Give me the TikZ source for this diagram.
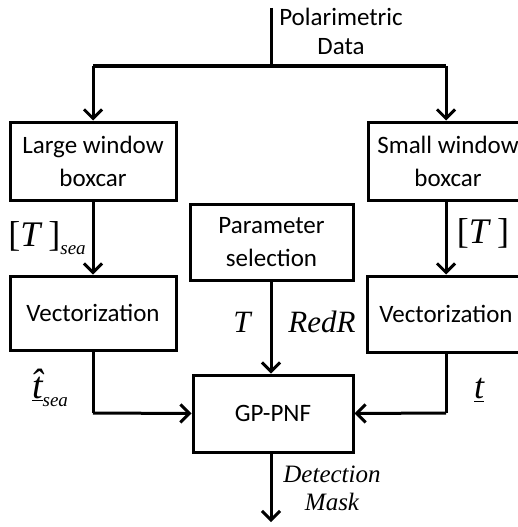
\documentclass[tikz,border=0pt]{standalone}
\usepackage{fontspec}
\setmainfont{Carlito}
\newfontfamily\mathserif{Liberation Serif}
\usetikzlibrary{arrows.meta}
\newcommand{\subsea}{\raisebox{-8pt}{\fontsize{19}{19}\selectfont\itshape sea}}
\tikzset{
  blk/.style={draw=black, line width=3pt, minimum width=166pt, minimum height=78pt,
    align=center, font=\fontsize{25}{33}\selectfont, inner sep=0pt},
  wire/.style={line width=3pt},
  flow/.style={line width=3pt, -{Straight Barb[length=9pt,width=18pt,line width=3pt]}},
  lbl/.style={font=\mathserif\itshape\fontsize{31}{31}\selectfont, inner sep=0pt},
}
\begin{document}
\begin{tikzpicture}[x=1pt,y=-1pt]
\useasboundingbox (0,0) rectangle (518,527);
\begin{scope}
\clip (0,0) rectangle (518,527);
% blocks
\node[blk, minimum width=166pt, minimum height=78pt] (large) at (93,161) {Large window\\boxcar};
\node[blk, minimum width=160pt, minimum height=78pt] (small) at (448,161) {Small window\\boxcar};
\node[blk, minimum width=163pt, minimum height=76pt] (param) at (271.5,242) {Parameter\\selection};
\node[blk, minimum width=166pt, minimum height=74pt] (vecL) at (93,313) {Vectorization};
\node[blk, minimum width=158pt, minimum height=76pt] (vecR) at (446,314) {Vectorization};
\node[blk, minimum width=160pt, minimum height=77pt] (gp) at (273,413.5) {GP-PNF};
% input
\coordinate (src) at (271,8);
\coordinate (split) at (271,66);
\coordinate (splitL) at (93,66);
\coordinate (splitR) at (446,66);
\node[font=\fontsize{25}{29}\selectfont, align=center, inner sep=0pt] (data) at (341,31) {Polarimetric\\Data};
\draw[wire] (src) -- (split);
\draw[wire] (splitL) -- (splitR);
\draw[flow] (splitL) -- (large.north -| splitL);
\draw[flow] (splitR) -- (small.north -| splitR);
% covariance to vectors
\node[lbl, font=\mathserif\fontsize{36}{36}\selectfont] (covL) at (47,238) {[\textit{T}\,]\subsea};
\node[lbl, font=\mathserif\fontsize{36}{36}\selectfont] (covR) at (483,233) {[\textit{T}\,]};
\draw[flow] (large.south -| splitL) -- (vecL.north -| splitL);
\draw[flow] (small.south -| splitR) -- (vecR.north -| splitR);
% parameters
\draw[flow] (param.south -| gp.north) ++(-2,0) coordinate (pm) -- (pm |- gp.north);
\node[lbl] (lT) at (242,322) {T};
\node[lbl] (lR) at (322,322) {RedR};
% vectors into detector
\coordinate (jL) at (93,413);
\coordinate (jR) at (446,413);
\draw[wire] (vecL.south -| jL) -- (jL);
\draw[flow] (jL) -- (gp.west);
\draw[wire] (vecR.south -| jR) -- (jR);
\draw[flow] (jR) -- (gp.east);
\node[lbl, font=\mathserif\itshape\fontsize{38}{38}\selectfont] (tsea) at (50,388) {\underline{\^{t}}\subsea};
\node[lbl, font=\mathserif\itshape\fontsize{36}{36}\selectfont] (tv) at (479,390) {\underline{t}};
% output
\coordinate (out) at (271,522);
\draw[flow] (gp.south -| pm) -- (out);
\node[lbl, align=center, font=\mathserif\itshape\fontsize{25}{28}\selectfont] (mask) at (332,488) {Detection\\Mask};
\end{scope}
\end{tikzpicture}
\end{document}
